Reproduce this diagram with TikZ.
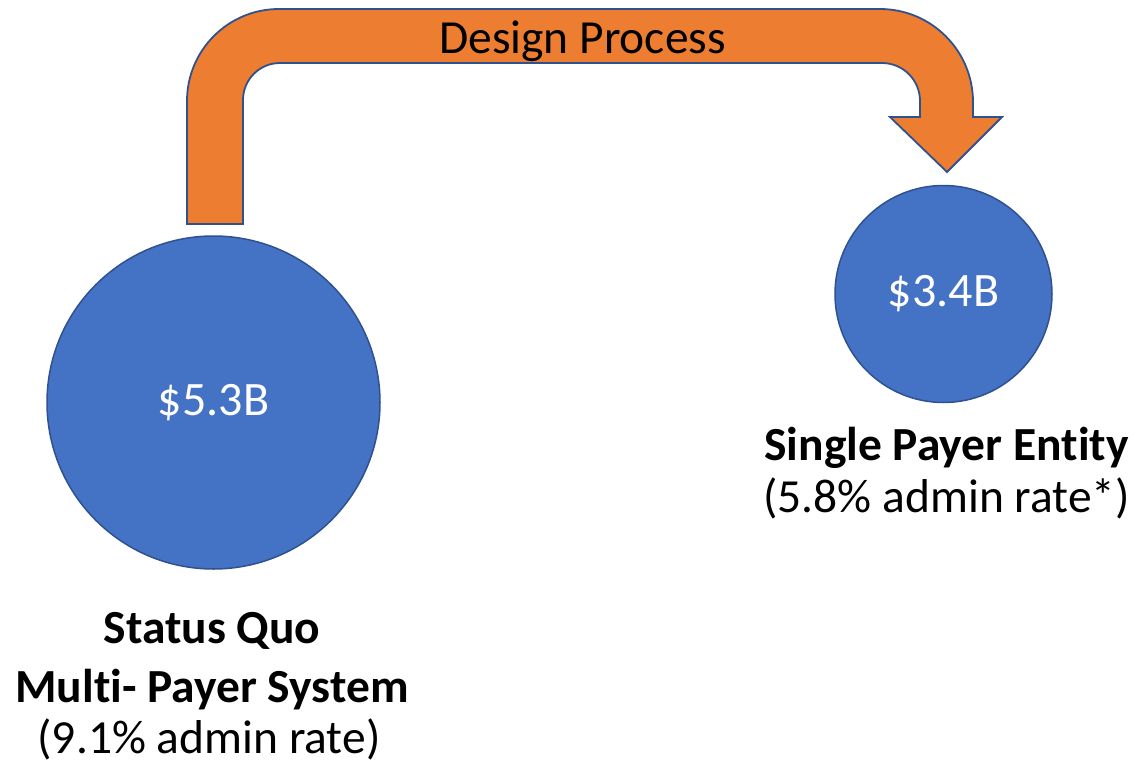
\documentclass[tikz,border=0pt]{standalone}
\usepackage{fontspec}
\setmainfont{Carlito}[Ligatures=NoCommon]
\definecolor{accentblue}{HTML}{4472C4}
\definecolor{outlineblue}{HTML}{2F528F}
\definecolor{accentorange}{HTML}{ED7D31}
\begin{document}
\begin{tikzpicture}[x=1pt,y=-1pt,
  money/.style={circle, fill=accentblue, draw=outlineblue, line width=1.5pt,
    text=white, font=\fontsize{48}{58}\selectfont, inner sep=0pt},
  caption/.style={anchor=base, font=\fontsize{47.5}{57}\selectfont},
  boldcap/.style={caption, font=\fontsize{47.5}{57}\selectfont\bfseries}]
\useasboundingbox (0,0) rectangle (1136,763);

% bent block arrow from the status quo to the single payer entity
\filldraw[fill=accentorange, draw=outlineblue, line width=1.8pt, line join=miter]
  (187,224) -- (187,101) arc[start angle=180, end angle=90, radius=92pt]
  -- (880,9) arc[start angle=90, end angle=0, radius=93pt]
  -- (973,117) -- (1002,117) -- (947,172) -- (890,117) -- (920,117) -- (920,101)
  arc[start angle=0, end angle=90, radius=38pt]
  -- (280,63) arc[start angle=90, end angle=180, radius=37pt]
  -- (243,224) -- cycle;
\node[caption] (proc) at (582.5,53) {Design Process};

% the two cost circles
\node[money, minimum size=333pt] (sq) at (213.5,402.5) {\$5.3B};
\node[money, minimum size=217pt] (sp) at (943.5,294) {\$3.4B};

% captions
\node[boldcap] (sqA) at (212,643) {Status Quo};
\node[boldcap] (sqB) at (212,702) {Multi- Payer System};
\node[caption] (sqC) at (209,753) {(9.1\% admin rate)};
\node[boldcap] (spA) at (946.5,460) {Single Payer Entity};
\node[caption] (spB) at (946.5,512) {(5.8\% admin rate*)};
\end{tikzpicture}
\end{document}
